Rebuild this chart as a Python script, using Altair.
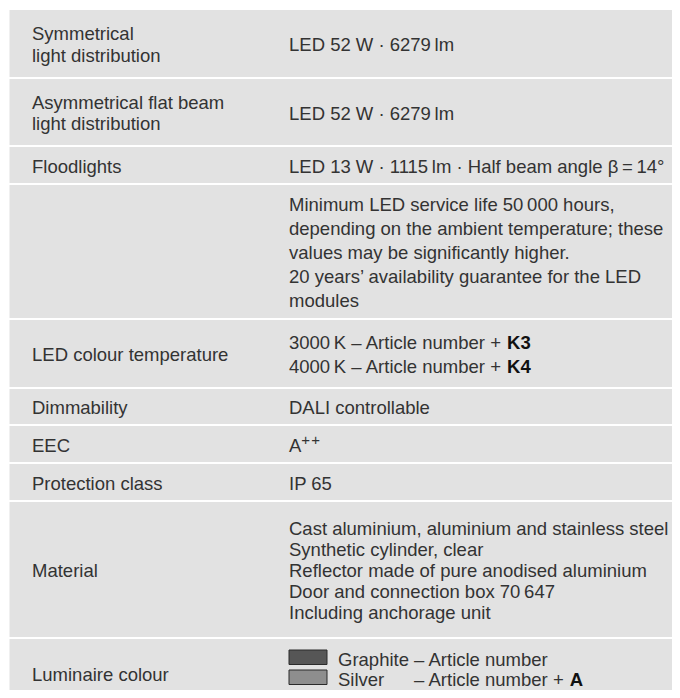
import altair as alt
import pandas as pd

# ---------------- content ----------------
labels = [
    "Symmetrical\nlight distribution",
    "Asymmetrical flat beam\nlight distribution",
    "Floodlights",
    "",
    "LED colour temperature",
    "Dimmability",
    "EEC",
    "Protection class",
    "Material",
    "Luminaire colour",
]
values = [
    "LED 52 W · 6279\u2009lm",
    "LED 52 W · 6279\u2009lm",
    "LED 13 W · 1115\u2009lm · Half beam angle β\u2009=\u200914°",
    "Minimum LED service life 50\u2009000 hours,\ndepending on the ambient temperature; these\n"
    "values may be significantly higher.\n20 years’ availability guarantee for the LED\nmodules",
    "3000\u2009K – Article number + \n4000\u2009K – Article number + ",
    "DALI controllable",
    "A",
    "IP 65",
    "Cast aluminium, aluminium and stainless steel\nSynthetic cylinder, clear\n"
    "Reflector made of pure anodised aluminium\nDoor and connection box 70\u2009647\nIncluding anchorage unit",
    "",
]
bold_suffix = {4: ["K3", "K4"]}
superscript = {6: "+\u200a+"}
colour_names = ["Graphite", "Silver"]
colour_suffix = ["– Article number", "– Article number + "]
colour_bold = ["", "A"]
colour_fills = ["#565656", "#8e8e8e"]

# ---------------- layout ----------------
W, H = 664, 682
FS = 18.5
row_heights = [67, 66, 36, 133, 67, 35, 36, 36, 135, 68]
gap = 2
top0 = 2
x_left, x_right = 1.5, 671
x_lab, x_val = 24, 281
text_dy = 1.5
lh_left = 21.5
lh_right = [21.5, 21.5, 21.5, 23.8, 23.3, 21.5, 21.5, 21.5, 20.8, 20]
swatch_block_dy = -4.5
TEXT_COL = "#333333"
CELL_COL = "#e2e2e2"
FONT = "Liberation Sans"

CW = {c: 556 for c in "0123456789"}
CW.update(dict(zip("ABCDEFGHIJKLMNOPQRSTUVWXYZ",
                   [667, 667, 722, 722, 667, 611, 778, 722, 278, 500, 667, 556, 833,
                    722, 778, 667, 778, 722, 667, 611, 722, 667, 944, 667, 667, 611])))
CW.update(dict(zip("abcdefghijklmnopqrstuvwxyz",
                   [556, 556, 500, 556, 556, 278, 556, 556, 222, 222, 500, 222, 833,
                    556, 556, 556, 556, 333, 500, 278, 556, 500, 722, 500, 500, 500])))
CW.update({" ": 278, "+": 584, "–": 556, "\u2009": 200, "·": 278})


def tw(s, fs=FS):
    return sum(CW.get(c, 556) for c in s) / 1000 * fs


tops, y = [], top0
for h in row_heights:
    tops.append(y)
    y += h + gap
centers = [t + h / 2 + text_dy for t, h in zip(tops, row_heights)]

rows = pd.DataFrame({
    "x": [x_left] * len(tops), "x2": [x_right] * len(tops),
    "y": tops, "y2": [t + h for t, h in zip(tops, row_heights)],
})


def explode(text, cx, cy, lh):
    lines = text.split("\n") if text else []
    n = len(lines)
    return [dict(t=l, x=cx, y=cy + (i - (n - 1) / 2) * lh) for i, l in enumerate(lines)]


normal, bold, sup = [], [], []
for i, (lab, val) in enumerate(zip(labels, values)):
    normal += explode(lab, x_lab, centers[i], lh_left)
    vl = explode(val, x_val, centers[i], lh_right[i])
    normal += vl
    if i in bold_suffix:
        for ln, b in zip(vl, bold_suffix[i]):
            bold.append(dict(t=b, x=ln["x"] + tw(ln["t"]), y=ln["y"]))
    if i in superscript:
        ln = vl[0]
        sup.append(dict(t=superscript[i], x=ln["x"] + tw(ln["t"]), y=ln["y"] - 6))

# luminaire colour swatches
ci = len(labels) - 1
sw_lines = explode("\n".join(colour_names), x_val, centers[ci] + swatch_block_dy, lh_right[ci])
swatches = []
name_x = x_val + 49
dash_x = name_x + tw(colour_names[0] + " ")
for k, ln in enumerate(sw_lines):
    swatches.append(dict(x=x_val, x2=x_val + 38, y=ln["y"] - 10, y2=ln["y"] + 4.5, c=colour_fills[k]))
    normal.append(dict(t=colour_names[k], x=name_x, y=ln["y"]))
    normal.append(dict(t=colour_suffix[k], x=dash_x, y=ln["y"]))
    if colour_bold[k]:
        bold.append(dict(t=colour_bold[k], x=dash_x + tw(colour_suffix[k]), y=ln["y"]))

xs = alt.Scale(domain=[0, W], nice=False, zero=False)
ys = alt.Scale(domain=[0, H], nice=False, zero=False, reverse=True)

X = lambda f: alt.X(f, type="quantitative", scale=xs, axis=None)
Y = lambda f: alt.Y(f, type="quantitative", scale=ys, axis=None)

cells = alt.Chart(rows).mark_rect(color=CELL_COL, clip=True).encode(
    x=X("x"), x2="x2", y=Y("y"), y2="y2")

sw = alt.Chart(pd.DataFrame(swatches)).mark_rect(stroke="#2a2a2a", strokeWidth=1).encode(
    x=X("x"), x2="x2", y=Y("y"), y2="y2",
    fill=alt.Fill("c:N", scale=None))

txt = alt.Chart(pd.DataFrame(normal)).mark_text(
    align="left", baseline="middle", font=FONT, fontSize=FS, color=TEXT_COL).encode(
    x=X("x"), y=Y("y"), text="t:N")

btxt = alt.Chart(pd.DataFrame(bold)).mark_text(
    align="left", baseline="middle", font=FONT, fontSize=FS, fontWeight="bold",
    color="#111111").encode(x=X("x"), y=Y("y"), text="t:N")

stxt = alt.Chart(pd.DataFrame(sup)).mark_text(
    align="left", baseline="middle", font=FONT, fontSize=15, color=TEXT_COL).encode(
    x=X("x"), y=Y("y"), text="t:N")

chart = alt.layer(cells, sw, txt, btxt, stxt).properties(
    width=W, height=H, padding=0, autosize="none", background="white"
).configure_view(strokeWidth=0)

chart.save("out.html", embed_options={"renderer": "svg", "actions": False})
